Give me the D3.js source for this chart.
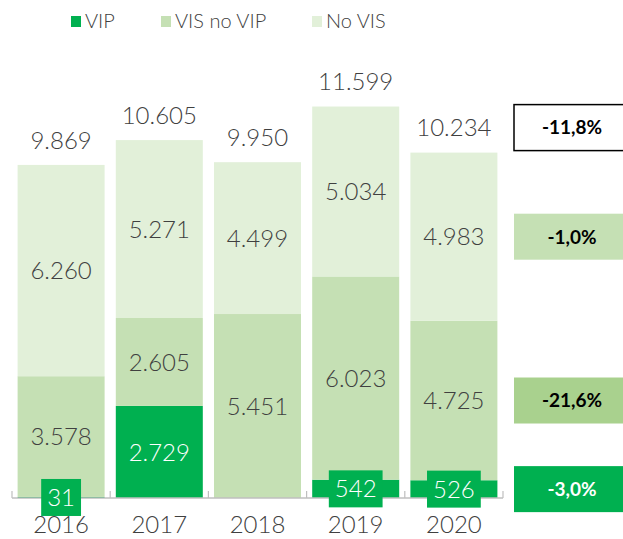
<!DOCTYPE html>
<html lang="es">
<head>
<meta charset="UTF-8">
<title>VIP / VIS</title>
<style>
    body { margin: 0; background: #fff; }
    text { font-family: Lato, "DejaVu Sans", sans-serif; fill: #404040; }
</style>
</head>
<body>
<svg id="chart" width="623" height="539"></svg>
<script src="https://cdnjs.cloudflare.com/ajax/libs/d3/7.8.5/d3.min.js"></script>
<script>
    const years = ["2016", "2017", "2018", "2019", "2020"];
    const seriesNames = ["VIP", "VIS no VIP", "No VIS"];
    const vip = [31, 2729, 0, 542, 526];
    const visNoVip = [3578, 2605, 5451, 6023, 4725];
    const noVis = [6260, 5271, 4499, 5034, 4983];
    const colors = ["#00b050", "#c5e0b4", "#e2f0d9"];
    const changeColors = ["#00b050", "#a9d18e", "#c5e0b4"];

    let svg = d3.select("#chart");
    let fmt = v => d3.format(",")(v).replace(/,/g, ".");
    let pct = v => (v * 100).toFixed(1).replace(".", ",") + "%";

    let rows = years.map((y, i) => ({ year: y, "VIP": vip[i], "VIS no VIP": visNoVip[i], "No VIS": noVis[i] }));
    let stack = d3.stack().keys(seriesNames)(rows);

    let x = d3.scaleBand().domain(years).range([12, 503]);
    let y = d3.scaleLinear().domain([0, 12000]).range([498, 93]);
    let barW = x.bandwidth() * 0.886;
    let barX = d => x(d.data.year) + (x.bandwidth() - barW) / 2;
    let cx = yr => x(yr) + x.bandwidth() / 2;

    // bars
    svg.append("g").selectAll("g")
        .data(stack)
        .join("g")
        .attr("fill", (d, i) => colors[i])
        .selectAll("rect")
        .data(d => d)
        .join("rect")
        .attr("x", barX)
        .attr("width", barW)
        .attr("y", d => y(d[1]))
        .attr("height", d => y(d[0]) - y(d[1]));

    // axis
    let axis = svg.append("g");
    axis.append("line")
        .attr("x1", x.range()[0]).attr("x2", x.range()[1])
        .attr("y1", y(0)).attr("y2", y(0))
        .attr("stroke", "#bfbfbf").attr("stroke-width", 1.5);
    axis.selectAll(".tick")
        .data(years.map(yr => x(yr)).concat([x.range()[1]]))
        .join("line")
        .attr("x1", d => d).attr("x2", d => d)
        .attr("y1", y(0)).attr("y2", y(0) - 7)
        .attr("stroke", "#bfbfbf").attr("stroke-width", 1.2);
    axis.selectAll("text")
        .data(years)
        .join("text")
        .attr("x", cx)
        .attr("y", 533)
        .attr("text-anchor", "middle")
        .attr("font-size", 24)
        .attr("font-weight", 300)
        .text(d => d);

    // segment labels
    let labels = svg.append("g");
    stack.forEach((s, si) => {
        s.forEach(d => {
            let v = d[1] - d[0];
            if (v <= 0) return;
            let ymid = (y(d[0]) + y(d[1])) / 2;
            let gLab = labels.append("g");
            let t = gLab.append("text")
                .attr("x", cx(d.data.year))
                .attr("y", ymid)
                .attr("dy", "0.36em")
                .attr("text-anchor", "middle")
                .attr("font-size", 24)
                .attr("font-weight", 300)
                .style("fill", si === 0 ? "#fff" : "#404040")
                .text(fmt(v));
            if (si === 0 && y(d[0]) - y(d[1]) < 30) {
                let bb = t.node().getBBox();
                gLab.insert("rect", "text")
                    .attr("x", bb.x - 6)
                    .attr("width", bb.width + 12)
                    .attr("y", ymid - 18.5)
                    .attr("height", 37)
                    .attr("fill", colors[0]);
            }
        });
    });

    // totals
    let totals = rows.map(r => r["VIP"] + r["VIS no VIP"] + r["No VIS"]);
    svg.append("g").selectAll("text")
        .data(years)
        .join("text")
        .attr("x", cx)
        .attr("y", (d, i) => y(totals[i]) - 25)
        .attr("dy", "0.36em")
        .attr("text-anchor", "middle")
        .attr("font-size", 24)
        .attr("font-weight", 300)
        .text((d, i) => fmt(totals[i]));

    // change 2020 vs 2019 boxes
    let last = years.length - 1;
    let changes = [
        { v: totals[last] / totals[last - 1] - 1, y: y(totals[last]) - 25, fill: "#fff", stroke: "#000", txt: "#000" }
    ];
    stack.slice().reverse().forEach((s, k) => {
        let si = stack.length - 1 - k;
        let d = s[last], p = s[last - 1];
        changes.push({
            v: (d[1] - d[0]) / (p[1] - p[0]) - 1,
            y: (y(d[0]) + y(d[1])) / 2,
            fill: changeColors[si], stroke: "none",
            txt: si === 0 ? "#fff" : "#000"
        });
    });

    let boxes = svg.append("g").selectAll("g")
        .data(changes)
        .join("g")
        .attr("transform", d => `translate(514,${d.y - 23})`);
    boxes.append("rect")
        .attr("width", 116).attr("height", 46)
        .attr("fill", d => d.fill)
        .attr("stroke", d => d.stroke)
        .attr("stroke-width", 1.5);
    boxes.append("text")
        .attr("x", 58).attr("y", 23).attr("dy", "0.36em")
        .attr("text-anchor", "middle")
        .attr("font-size", 19)
        .attr("font-weight", "bold")
        .style("fill", d => d.txt)
        .text(d => pct(d.v));

    // legend
    let legX = [71, 161, 312];
    let leg = svg.append("g").selectAll("g")
        .data(seriesNames)
        .join("g")
        .attr("transform", (d, i) => `translate(${legX[i]},16)`);
    leg.append("rect").attr("width", 10).attr("height", 11).attr("fill", (d, i) => colors[i]);
    leg.append("text")
        .attr("x", 14).attr("y", 12)
        .attr("font-size", 20)
        .attr("font-weight", 300)
        .text(d => d);
</script>
</body>
</html>
